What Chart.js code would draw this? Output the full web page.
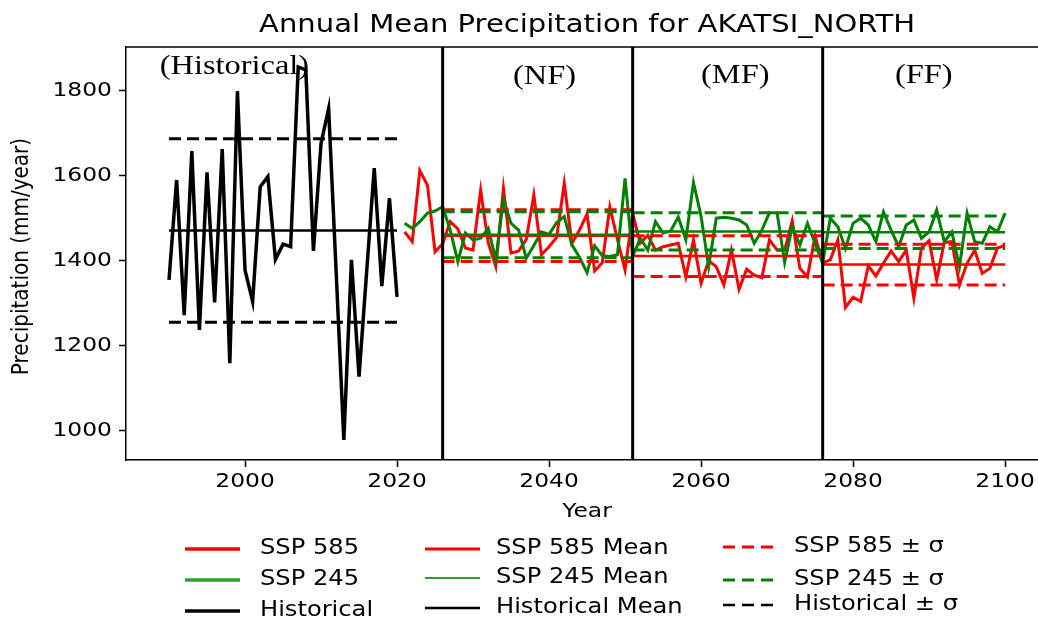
<!DOCTYPE html>
<html lang="en">
<head>
<meta charset="UTF-8">
<title>Annual Mean Precipitation for AKATSI_NORTH</title>
<script src="https://cdn.jsdelivr.net/npm/chart.js"></script>
<style>
  body { margin: 0; background: #fff; }
  canvas { display: block; }
</style>
</head>
<body>
<canvas id="precipChart" width="1038" height="619"></canvas>
<script>
// values (mm/year)
const histStart = 1990;
const historical = [1355, 1590, 1272, 1658, 1237, 1608, 1302, 1663, 1159, 1799,
  1378, 1304, 1574, 1598, 1403, 1439, 1433, 1856, 1849, 1423,
  1676, 1758, 1370, 978, 1402, 1127, 1373, 1618, 1340, 1547, 1315];

const sspStart = 2021;
const ssp585 = [1468, 1445, 1612, 1578, 1421, 1440, 1492, 1475, 1430, 1425,
  1566, 1442, 1386, 1570, 1418, 1423, 1450, 1555, 1414, 1433,
  1455, 1582, 1441, 1472, 1510, 1376, 1395, 1527, 1450, 1378,
  1511, 1441, 1460, 1425, 1433, 1437, 1441, 1362, 1449, 1347,
  1400, 1386, 1343, 1425, 1333, 1380, 1366, 1360, 1449, 1425,
  1425, 1494, 1382, 1362, 1458, 1395, 1402, 1449, 1290, 1314,
  1304, 1388, 1364, 1394, 1423, 1398, 1425, 1312, 1430, 1447,
  1355, 1443, 1445, 1343, 1394, 1425, 1370, 1382, 1430, 1436];
const ssp245 = [1488, 1476, 1492, 1512, 1517, 1527, 1472, 1398, 1465, 1449,
  1453, 1476, 1402, 1545, 1488, 1472, 1406, 1436, 1468, 1462,
  1490, 1504, 1438, 1408, 1372, 1435, 1412, 1410, 1414, 1594,
  1410, 1453, 1425, 1492, 1465, 1470, 1503, 1449, 1584, 1505,
  1386, 1500, 1502, 1500, 1496, 1484, 1441, 1472, 1513, 1513,
  1396, 1480, 1437, 1488, 1441, 1394, 1500, 1480, 1429, 1488,
  1500, 1484, 1445, 1515, 1472, 1433, 1484, 1496, 1453, 1468,
  1519, 1445, 1468, 1386, 1512, 1445, 1441, 1480, 1468, 1512];

// periods NF / MF / FF
const periodBounds = [2026, 2051, 2076, 2100];
const ssp585Mean = [1459, 1411, 1391];
const ssp585Sd = [61, 48, 48];
const ssp245Mean = [1461, 1469, 1467];
const ssp245Sd = [54, 44, 38];
const histMean = 1471;
const histSd = 216;

const xTicks = [2000, 2020, 2040, 2060, 2080, 2100];
const yTicks = [1000, 1200, 1400, 1600, 1800];

const RED = '#ff0000', GREEN = '#008000', BLACK = '#000000';

function toPoints(start, values) {
  return values.map((v, i) => ({ x: start + i, y: v }));
}
function periodSegments(values) {
  const pts = [];
  values.forEach((v, i) => {
    pts.push({ x: periodBounds[i], y: v }, { x: periodBounds[i + 1], y: v }, { x: periodBounds[i + 1], y: null });
  });
  return pts;
}
const histEnd = histStart + historical.length - 1;
function flat(v) { return [{ x: histStart, y: v }, { x: histEnd, y: v }]; }

function line(data, color, width, order, dash) {
  return {
    data: data, borderColor: color, borderWidth: width, borderDash: dash || [],
    pointRadius: 0, tension: 0, fill: false, order: order, spanGaps: false
  };
}

const DASH = [12, 6];
const datasets = [
  line(periodSegments(ssp245Mean), GREEN, 2.5, 1),
  line(periodSegments(ssp245Mean.map((m, i) => m + ssp245Sd[i])), GREEN, 3, 1, DASH),
  line(periodSegments(ssp245Mean.map((m, i) => m - ssp245Sd[i])), GREEN, 3, 1, DASH),
  line(periodSegments(ssp585Mean), RED, 2.5, 2),
  line(periodSegments(ssp585Mean.map((m, i) => m + ssp585Sd[i])), RED, 3, 2, DASH),
  line(periodSegments(ssp585Mean.map((m, i) => m - ssp585Sd[i])), RED, 3, 2, DASH),
  line(toPoints(sspStart, ssp245), GREEN, 3, 3),
  line(toPoints(sspStart, ssp585), RED, 3, 4),
  line(flat(histMean), BLACK, 2.5, 5),
  line(flat(histMean + histSd), BLACK, 3, 5, DASH),
  line(flat(histMean - histSd), BLACK, 3, 5, DASH),
  line(toPoints(histStart, historical), BLACK, 3.5, 6)
];

// text helper: figure was exported horizontally stretched
function drawText(ctx, text, x, y, font, align, rotate, sx) {
  ctx.save();
  ctx.font = font;
  ctx.fillStyle = '#000';
  ctx.textAlign = align || 'center';
  ctx.textBaseline = 'middle';
  ctx.translate(x, y);
  ctx.scale(sx || 1.17, 1);
  if (rotate) ctx.rotate(rotate);
  ctx.fillText(text, 0, 0);
  ctx.restore();
}

const periodLabels = [
  { text: '(Historical)', x: 1998.6, y: 1856 },
  { text: '(NF)', x: 2039.4, y: 1833 },
  { text: '(MF)', x: 2064.5, y: 1836 },
  { text: '(FF)', x: 2089.3, y: 1836 }
];

const legendCols = [
  { lineX: 185, textX: 260, items: [
    { label: 'SSP 585', color: RED, w: 3.5, dy: 0 },
    { label: 'SSP 245', color: '#2ca02c', w: 3.5, dy: 0 },
    { label: 'Historical', color: BLACK, w: 3.5, dy: 0 } ] },
  { lineX: 425, textX: 496, items: [
    { label: 'SSP 585 Mean', color: RED, w: 3, dy: 0 },
    { label: 'SSP 245 Mean', color: '#2ca02c', w: 2, dy: -2 },
    { label: 'Historical Mean', color: BLACK, w: 2.5, dy: -3 } ] },
  { lineX: 723, textX: 794, dash: [12, 7], items: [
    { label: 'SSP 585 \u00b1 \u03c3', color: RED, w: 3, dy: -2 },
    { label: 'SSP 245 \u00b1 \u03c3', color: GREEN, w: 3, dy: 0 },
    { label: 'Historical \u00b1 \u03c3', color: BLACK, w: 2.5, dy: -6 } ] }
];
const legendRowsY = [549, 580, 611];

const decorPlugin = {
  id: 'decor',
  afterDatasetsDraw(chart) {
    const { ctx, chartArea: a, scales: { x } } = chart;
    ctx.save();
    ctx.strokeStyle = BLACK;
    ctx.lineWidth = 3;
    periodBounds.slice(0, 3).forEach(b => {
      const px = x.getPixelForValue(b);
      ctx.beginPath(); ctx.moveTo(px, a.top); ctx.lineTo(px, a.bottom); ctx.stroke();
    });
    ctx.lineWidth = 1.5;
    ctx.beginPath(); ctx.moveTo(a.left, a.top); ctx.lineTo(a.right + 5, a.top); ctx.stroke();
    ctx.restore();
  },
  afterDraw(chart) {
    const { ctx, chartArea: a, scales: { x, y } } = chart;
    const tickFont = '20px "DejaVu Sans"';
    xTicks.forEach(v => drawText(ctx, String(v), x.getPixelForValue(v), 482, tickFont));
    yTicks.forEach(v => drawText(ctx, String(v), 112, y.getPixelForValue(v), tickFont, 'right'));
    drawText(ctx, 'Year', x.getPixelForValue(2045), 512, tickFont);
    drawText(ctx, 'Precipitation (mm/year)', 22, (a.top + a.bottom) / 2 + 3, tickFont, 'center', -Math.PI / 2);
    drawText(ctx, 'Annual Mean Precipitation for AKATSI_NORTH', x.getPixelForValue(2045), 26, '24px "DejaVu Sans"', 'center', 0, 1.21);
    periodLabels.forEach(p => drawText(ctx, p.text, x.getPixelForValue(p.x), y.getPixelForValue(p.y),
      '27px "Liberation Serif", "Times New Roman", serif', 'center', 0, 1.2));

    legendCols.forEach(col => {
      col.items.forEach((it, r) => {
        const ly = legendRowsY[r] + it.dy;
        ctx.save();
        ctx.strokeStyle = it.color;
        ctx.lineWidth = it.w;
        ctx.setLineDash(col.dash || []);
        ctx.beginPath(); ctx.moveTo(col.lineX, ly); ctx.lineTo(col.lineX + 55, ly); ctx.stroke();
        ctx.restore();
        drawText(ctx, it.label, col.textX, ly, '21px "DejaVu Sans"', 'left', 0, 1.15);
      });
    });
  }
};

new Chart(document.getElementById('precipChart'), {
  type: 'line',
  data: { datasets: datasets },
  options: {
    responsive: false,
    animation: false,
    events: [],
    layout: { padding: { top: 47, left: 0, right: 1, bottom: 151 } },
    plugins: { legend: { display: false }, title: { display: false }, tooltip: { enabled: false } },
    scales: {
      x: {
        type: 'linear', min: 1984.34, max: 2104.2,
        ticks: { display: false },
        afterBuildTicks: s => { s.ticks = xTicks.map(v => ({ value: v })); },
        afterFit: s => { s.height = 8; },
        grid: { display: true, drawOnChartArea: false, drawTicks: true, tickLength: 7, tickWidth: 1.5, tickColor: BLACK },
        border: { display: true, color: BLACK, width: 1.5 }
      },
      y: {
        type: 'linear', min: 931, max: 1903,
        ticks: { display: false },
        afterBuildTicks: s => { s.ticks = yTicks.map(v => ({ value: v })); },
        afterFit: s => { s.width = 126; },
        grid: { display: true, drawOnChartArea: false, drawTicks: true, tickLength: 7, tickWidth: 1.5, tickColor: BLACK },
        border: { display: true, color: BLACK, width: 1.5 }
      }
    }
  },
  plugins: [decorPlugin]
});
</script>
</body>
</html>
